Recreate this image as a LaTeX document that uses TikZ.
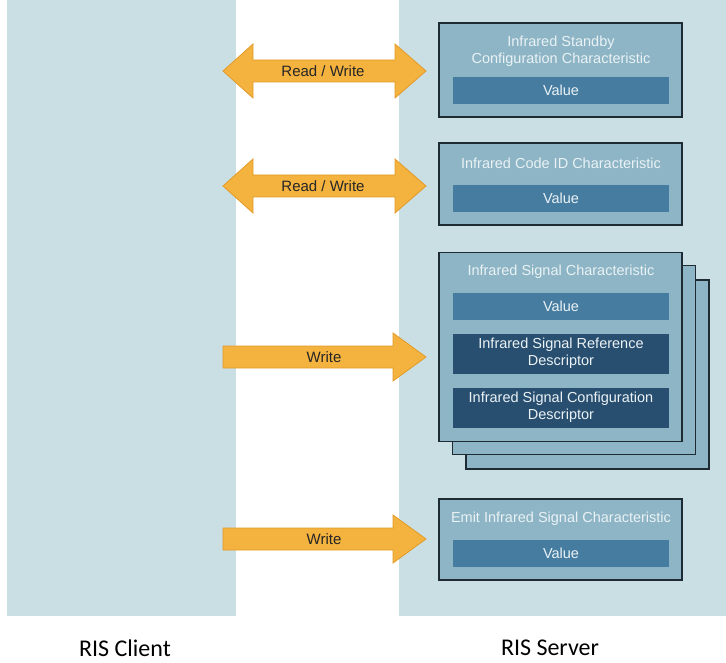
\documentclass[tikz,border=0pt]{standalone}
\usepackage{fontspec}
\setmainfont{Liberation Sans}
\newfontfamily\labelfont{Carlito}
\usetikzlibrary{positioning}

\definecolor{panelblue}{HTML}{C9DFE3}
\definecolor{boxblue}{HTML}{8DB5C5}
\definecolor{boxline}{HTML}{1E2B33}
\definecolor{valueblue}{HTML}{467CA0}
\definecolor{descblue}{HTML}{294F70}
\definecolor{paletext}{HTML}{EAF2F5}
\definecolor{arrowfill}{HTML}{F4B23E}
\definecolor{arrowline}{HTML}{E29A2A}

\begin{document}
\begin{tikzpicture}[
		x=1pt, y=-1pt,
		every node/.style={inner sep=0pt, outer sep=0pt, align=center},
		panel/.style={fill=panelblue, draw=none},
		charbox/.style={rectangle, fill=boxblue, draw=boxline, line width=1.2pt, minimum width=243, text=paletext},
		titletext/.style={text=paletext, font=\fontsize{14.5}{17}\selectfont},
		valuebar/.style={rectangle, fill=valueblue, minimum width=216, minimum height=27, text=paletext, font=\fontsize{14.5}{17}\selectfont},
		descbar/.style={rectangle, fill=descblue, minimum width=216, minimum height=40, text=paletext, font=\fontsize{14.5}{17}\selectfont},
		fatarrow/.style={fill=arrowfill, draw=arrowline, line width=0.8pt, line join=miter},
		arrowtext/.style={text=black!85, font=\fontsize{15}{18}\selectfont},
		sidelabel/.style={font=\labelfont\fontsize{24}{28}\selectfont}
		]
		
		\useasboundingbox (0,0) rectangle (726,663);
		
		% Panels
		\fill[panel] (7,0) rectangle (236,616);
		\fill[panel] (399,0) rectangle (726,616);
		\node[sidelabel] (client) at (125,648) {RIS Client};
		\node[sidelabel] (server) at (550,648) {RIS Server};
		
		% Standby characteristic
		\node[charbox, minimum height=94] (standby) at (560.5,70) {};
		\node[titletext] (standbyt) at (561,51.5) {Infrared Standby\\Configuration Characteristic};
		\node[valuebar] (standbyv) at (561,90.5) {Value};
		
		% Code ID characteristic
		\node[charbox, minimum height=82] (codeid) at (560.5,184) {};
		\node[titletext] (codeidt) at (561,163) {Infrared Code ID Characteristic};
		\node[valuebar] (codeidv) at (561,198.5) {Value};
		
		% Signal characteristic (stacked)
		\node[charbox, minimum height=189] (signalc) at (587.5,374.5) {};
		\node[charbox, minimum height=189] (signalb) at (574,360) {};
		\node[charbox, minimum height=189] (signal) at (560.5,347) {};
		\node[titletext] (signalt) at (561,272) {Infrared Signal Characteristic};
		\node[valuebar] (signalv) at (561,306.5) {Value};
		\node[descbar] (refdesc) at (561,353.5) {Infrared Signal Reference\\Descriptor};
		\node[descbar] (confdesc) at (561,407.5) {Infrared Signal Configuration\\Descriptor};
		
		% Emit characteristic
		\node[charbox, minimum height=81] (emit) at (560.5,539.5) {};
		\node[titletext] (emitt) at (561,519) {Emit Infrared Signal Characteristic};
		\node[valuebar] (emitv) at (561,553.5) {Value};
		
		% Arrows
		\draw[fatarrow] (223,71) -- (253,44) -- (253,60) -- (395,60) -- (395,44) -- (426,71)
			-- (395,98) -- (395,82) -- (253,82) -- (253,98) -- cycle;
		\node[arrowtext] (rw1) at (323,71) {Read / Write};
		
		\draw[fatarrow] (223,186) -- (253,159) -- (253,175) -- (395,175) -- (395,159) -- (426,186)
			-- (395,213) -- (395,197) -- (253,197) -- (253,213) -- cycle;
		\node[arrowtext] (rw2) at (323,186) {Read / Write};
		
		\draw[fatarrow] (223,346) -- (393,346) -- (393,333) -- (426,357) -- (393,381) -- (393,368)
			-- (223,368) -- cycle;
		\node[arrowtext] (w1) at (324,357) {Write};
		
		\draw[fatarrow] (223,528) -- (393,528) -- (393,515) -- (426,539) -- (393,563) -- (393,550)
			-- (223,550) -- cycle;
		\node[arrowtext] (w2) at (324,539) {Write};
		
	\end{tikzpicture}
\end{document}
